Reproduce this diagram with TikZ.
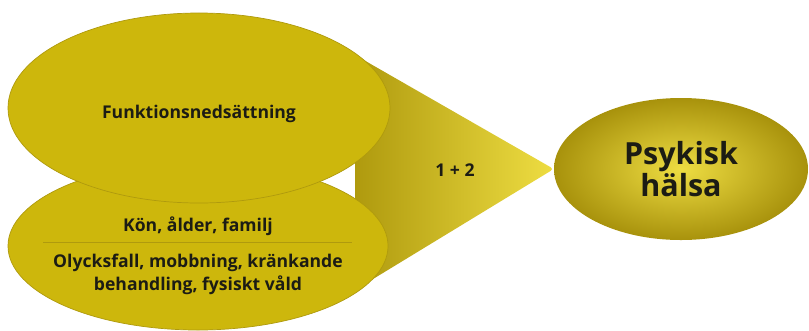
\documentclass[tikz,border=0pt]{standalone}
\usepackage{fontspec}
\setmainfont{Open Sans}
\usepackage{xcolor}
\usepackage{tikz}
\usetikzlibrary{shapes.geometric,backgrounds}

\definecolor{olive}{HTML}{CDB70C}
\definecolor{olivedark}{HTML}{AF9A0E}
\definecolor{olivedeep}{HTML}{A8920C}
\definecolor{olivelight}{HTML}{EEDD42}
\definecolor{ink}{HTML}{1C1C14}

\begin{document}
\begin{tikzpicture}[
			x=0.03cm, y=-0.03cm,
			font=\fontsize{15}{17}\selectfont\bfseries,
			text=ink,
			factor/.style={draw=olivedark, line width=0.6pt, fill=olive, ellipse, inner sep=0pt},
			label/.style={align=center, inner sep=1pt},
			outcome/.style={ellipse, inner sep=0pt, shading=radial, inner color=olivelight, outer color=olivedeep}
			]
			\useasboundingbox (0,0) rectangle (809,330);
			
			% the two risk factors, lower one first
			\node[factor, minimum width=11.4cm, minimum height=5.04cm] (lower) at (198,246) {};
			\node[factor, minimum width=11.46cm, minimum height=5.7cm] (upper) at (199,108) {};
			
			% the outcome
			\node[outcome, minimum width=7.62cm, minimum height=4.26cm, align=center,
				font=\fontsize{26}{24}\selectfont\bfseries] (halsa) at (681,169) {Psykisk\\hälsa};
			
			% funnel behind the factors
			\begin{pgfonlayer}{background}
				\coordinate (ftop) at (355,55);
				\coordinate (fbot) at (355,290);
				\shade[left color=olivedark, right color=olivelight]
					(ftop) [rounded corners=3pt] -- (halsa.west) [sharp corners] -- (fbot) -- cycle;
			\end{pgfonlayer}
			\node[label] (sum) at (455,170) {1 + 2};
			
			\node[label] (funk) at (199,114) {Funktionsnedsättning};
			\node[label] (kon) at (198,226) {Kön, ålder, familj};
			\node[label, font=\fontsize{15}{19.5}\selectfont\bfseries] (olyck) at (198,274)
				{Olycksfall, mobbning, kränkande\\behandling, fysiskt våld};
			
			\coordinate (sepl) at (43,242);
			\coordinate (sepr) at (352,242);
			\draw[olivedark, line width=0.8pt] (sepl) -- (sepr);
		\end{tikzpicture}
\end{document}
